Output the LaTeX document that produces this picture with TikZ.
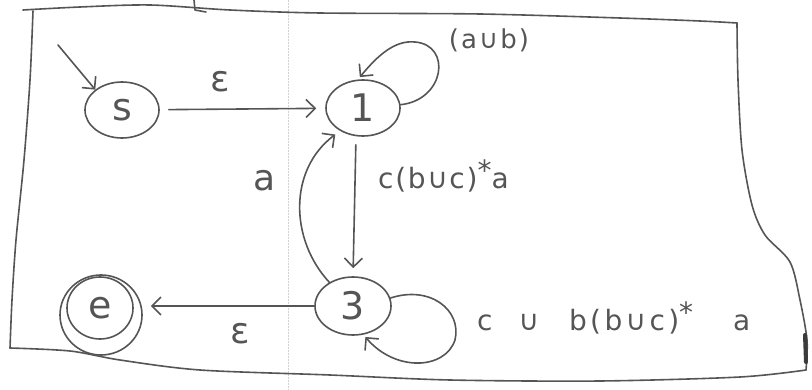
\documentclass[tikz,border=0pt]{standalone}
\usepackage{fontspec}
\setmainfont{DejaVu Sans}
\usetikzlibrary{arrows.meta,shapes.geometric}
\definecolor{ink}{RGB}{85,85,85}
\begin{document}
\begin{tikzpicture}[x=1pt,y=-1pt,
  inkline/.style={draw=ink, line width=1.6pt, line cap=round, line join=round},
  state/.style={inkline, ellipse, minimum width=74pt, minimum height=56pt, inner sep=0pt,
    text=ink, font=\fontsize{38}{42}\selectfont},
  lbl/.style={text=ink, inner sep=0pt, font=\fontsize{26}{30}\selectfont\addfontfeatures{LetterSpace=8}},
  biglbl/.style={text=ink, inner sep=0pt, font=\fontsize{36}{40}\selectfont},
  arr/.style={inkline, -{Straight Barb[length=9pt,width=18pt,line width=1.6pt]}}]
\useasboundingbox (0,0) rectangle (812,390);
% faint scan crease
\draw[gray!35, densely dotted, line width=0.5pt] (288,0) -- (288,390);
% hand-drawn frame
\draw[inkline] plot[smooth] coordinates {(23,10) (80,7) (150,5) (230,10) (320,13) (480,14) (620,18) (700,21) (737,23)};
\draw[inkline] plot[smooth] coordinates {(737,23) (738,80) (742,150) (752,205) (765,235) (790,262) (800,300) (807,340) (806,370)};
\draw[inkline] plot[smooth] coordinates {(806,370) (740,377) (600,381) (450,380) (330,375) (200,370) (120,360) (70,351) (10,348)};
\draw[inkline] plot[smooth] coordinates {(10,348) (12,300) (16,240) (24,160) (30,80) (33,11)};
\draw[inkline] (194,0) -- (195,10) -- (206,12);
\draw[ink!70!black, line width=4pt, line cap=round] (805,335) -- (806,362);
% states
\node[state] (s) at (122,110) {s};
\node[state] (n1) at (363,108) {1};
\node[state, minimum width=76pt, minimum height=58pt] (n3) at (353,306) {3};
\node[state, minimum width=66pt, minimum height=62pt] (e) at (100,308) {e};
\node[state, minimum width=82pt, minimum height=80pt] (eo) at (101,315) {};
% start arrow
\coordinate (st) at (58,45);
\draw[arr] (st) -- (s.north west);
% edges
\draw[arr, shorten <=9pt, shorten >=9pt] (s) -- (n1);
\node[biglbl] (l1) at (220,82) {ε};
\draw[arr, shorten >=3pt] (n1.5) .. controls (445,100) and (452,45) .. (415,42)
  .. controls (395,40) and (378,55) .. (n1.100);
\node[lbl] (l2) at (489,40) {(a∪b)};
\draw[arr, shorten <=8pt, shorten >=8pt] ([xshift=-7pt]n1.south) -- (n3.north);
\node[lbl, anchor=west, font=\fontsize{28}{32}\selectfont\addfontfeatures{LetterSpace=6}] (l3) at (378,176) {c(b∪c)\raisebox{.3em}{*}a};
\draw[arr, shorten >=6pt] (n3.135) .. controls (290,240) and (288,170) .. (n1.225);
\node[biglbl] (l4) at (265,181) {a};
\draw[arr, shorten >=8pt] (n3.west) -- (eo.east |- n3.west);
\node[biglbl] (l5) at (240,334) {ε};
\draw[arr, shorten >=3pt] (n3.12) .. controls (430,285) and (462,310) .. (455,340)
  .. controls (445,370) and (395,372) .. (n3.290);
\node[lbl, anchor=west, font=\fontsize{28}{32}\selectfont\addfontfeatures{LetterSpace=12}] (l6) at (477,318)
  {c\hspace{26pt}∪\hspace{30pt}b(b∪c)\raisebox{.3em}{*}\hspace{40pt}a};
\end{tikzpicture}
\end{document}
